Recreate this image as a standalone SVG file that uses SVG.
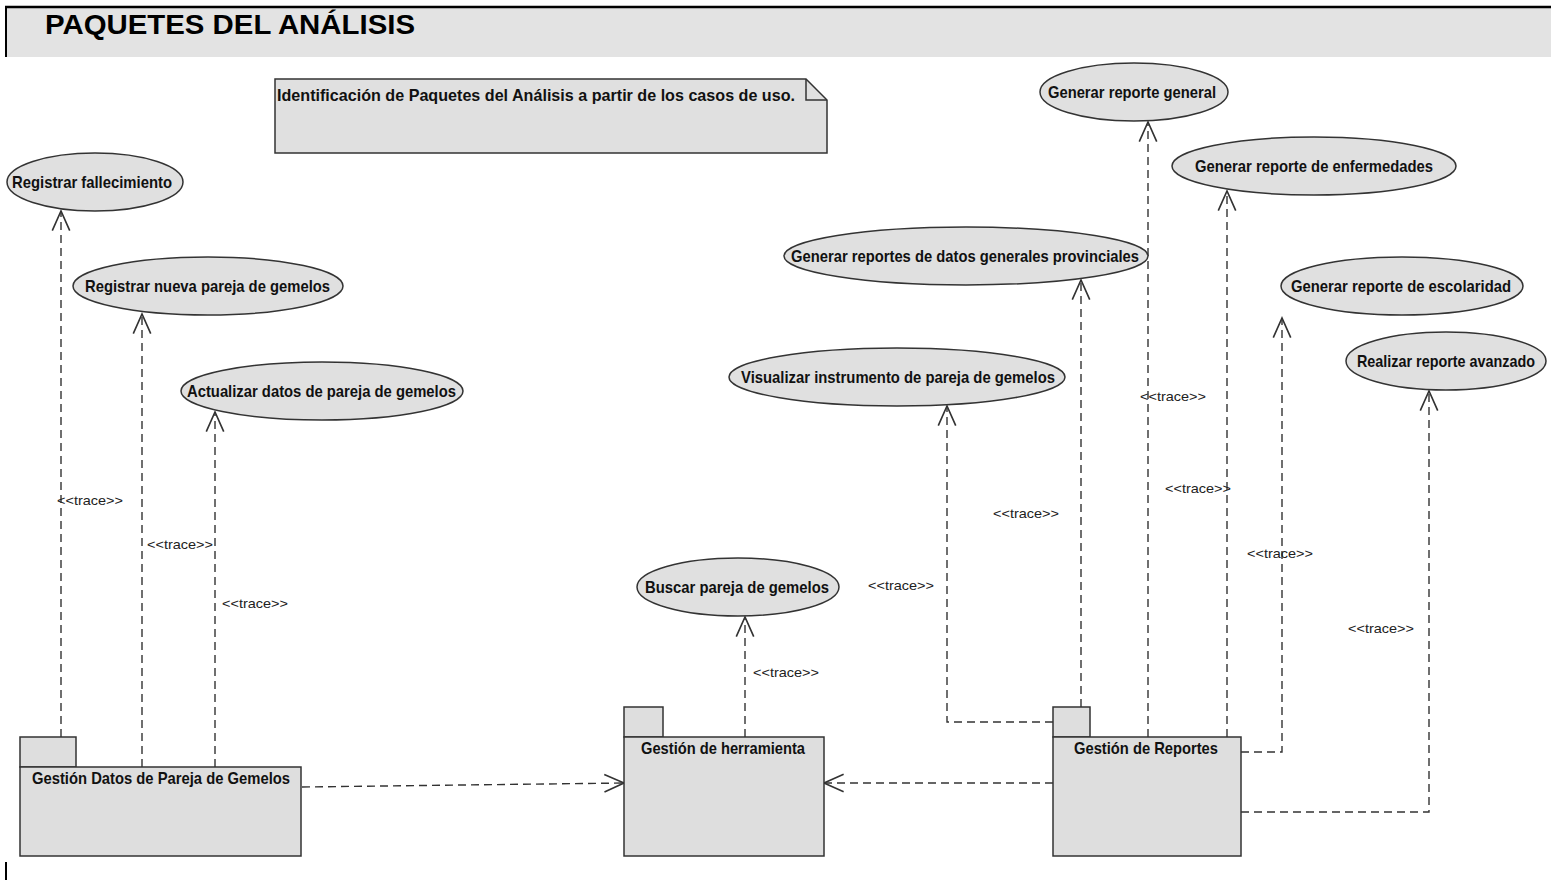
<svg xmlns="http://www.w3.org/2000/svg" width="1551" height="880" viewBox="0 0 1551 880">
<style>
.uc{fill:#e0e0e0;stroke:#333;stroke-width:1.5}
.pk{fill:#dedede;stroke:#333;stroke-width:1.5}
.lb{font-family:"Liberation Sans",Arial,sans-serif;font-weight:bold;font-size:17px;fill:#111}
.tr{font-family:"Liberation Sans",Arial,sans-serif;font-size:13px;fill:#222}
.dep{fill:none;stroke:#333;stroke-width:1.4;stroke-dasharray:8 5}
</style>
<defs>
<marker id="open" markerUnits="userSpaceOnUse" markerWidth="24" markerHeight="24" refX="0" refY="0" viewBox="-20 -10 22 20" orient="auto" overflow="visible">
<path d="M-18,-8 L0,0 L-18,8" fill="none" stroke="#333" stroke-width="1.5" stroke-dasharray="none"/>
</marker>
</defs>
<rect width="1551" height="880" fill="#fff"/>
<g id="header">
<rect x="6" y="7" width="1545" height="50" fill="#e3e3e3"/>
<line x1="5" y1="7" x2="1551" y2="7" stroke="#000" stroke-width="2.5"/>
<line x1="6" y1="6" x2="6" y2="57" stroke="#000" stroke-width="2"/>
<text x="45" y="34" font-family="'Liberation Sans',Arial,sans-serif" font-weight="bold" font-size="27" fill="#000" textLength="370" lengthAdjust="spacingAndGlyphs">PAQUETES DEL ANÁLISIS</text>
<line x1="6" y1="862" x2="6" y2="880" stroke="#000" stroke-width="2"/>
</g>
<g id="note">
<path d="M275,79 H806 L827,100 V153 H275 Z" class="uc"/>
<path d="M806,79 V100 H827" fill="none" stroke="#333" stroke-width="1.5"/>
<text x="277" y="101" class="lb" textLength="518" lengthAdjust="spacingAndGlyphs">Identificación de Paquetes del Análisis a partir de los casos de uso.</text>
</g>
<g id="connectors">
<path class="dep" d="M61,737 V211" marker-end="url(#open)"/>
<path class="dep" d="M142,767 V314" marker-end="url(#open)"/>
<path class="dep" d="M215,767 V412" marker-end="url(#open)"/>
<path class="dep" d="M745,737 V617" marker-end="url(#open)"/>
<path class="dep" d="M1053,722 H947 V406" marker-end="url(#open)"/>
<path class="dep" d="M1081,707 V280" marker-end="url(#open)"/>
<path class="dep" d="M1148,737 V122" marker-end="url(#open)"/>
<path class="dep" d="M1227,737 V191" marker-end="url(#open)"/>
<path class="dep" d="M1241,752 H1282 V318" marker-end="url(#open)"/>
<path class="dep" d="M1241,812 H1429 V391" marker-end="url(#open)"/>
<path class="dep" d="M302,787 L624,783" marker-end="url(#open)"/>
<path class="dep" d="M1053,783 H824" marker-end="url(#open)"/>
<text class="tr" x="57" y="505" textLength="66" lengthAdjust="spacingAndGlyphs">&lt;&lt;trace&gt;&gt;</text>
<text class="tr" x="147" y="549" textLength="66" lengthAdjust="spacingAndGlyphs">&lt;&lt;trace&gt;&gt;</text>
<text class="tr" x="222" y="608" textLength="66" lengthAdjust="spacingAndGlyphs">&lt;&lt;trace&gt;&gt;</text>
<text class="tr" x="753" y="677" textLength="66" lengthAdjust="spacingAndGlyphs">&lt;&lt;trace&gt;&gt;</text>
<text class="tr" x="868" y="590" textLength="66" lengthAdjust="spacingAndGlyphs">&lt;&lt;trace&gt;&gt;</text>
<text class="tr" x="993" y="518" textLength="66" lengthAdjust="spacingAndGlyphs">&lt;&lt;trace&gt;&gt;</text>
<text class="tr" x="1140" y="401" textLength="66" lengthAdjust="spacingAndGlyphs">&lt;&lt;trace&gt;&gt;</text>
<text class="tr" x="1165" y="493" textLength="66" lengthAdjust="spacingAndGlyphs">&lt;&lt;trace&gt;&gt;</text>
<text class="tr" x="1247" y="558" textLength="66" lengthAdjust="spacingAndGlyphs">&lt;&lt;trace&gt;&gt;</text>
<text class="tr" x="1348" y="633" textLength="66" lengthAdjust="spacingAndGlyphs">&lt;&lt;trace&gt;&gt;</text>
</g>
<g id="uc-registrar-fallecimiento">
<ellipse class="uc" cx="95" cy="182" rx="88" ry="29"/>
<text class="lb" x="12" y="188" textLength="160" lengthAdjust="spacingAndGlyphs">Registrar fallecimiento</text>
</g>
<g id="uc-registrar-nueva">
<ellipse class="uc" cx="208" cy="286" rx="135" ry="29"/>
<text class="lb" x="85" y="292" textLength="245" lengthAdjust="spacingAndGlyphs">Registrar nueva pareja de gemelos</text>
</g>
<g id="uc-actualizar">
<ellipse class="uc" cx="322" cy="391" rx="141" ry="29"/>
<text class="lb" x="187" y="397" textLength="269" lengthAdjust="spacingAndGlyphs">Actualizar datos de pareja de gemelos</text>
</g>
<g id="uc-reporte-general">
<ellipse class="uc" cx="1134" cy="92" rx="94" ry="29"/>
<text class="lb" x="1048" y="98" textLength="168" lengthAdjust="spacingAndGlyphs">Generar reporte general</text>
</g>
<g id="uc-reporte-enfermedades">
<ellipse class="uc" cx="1314" cy="166" rx="142" ry="29"/>
<text class="lb" x="1195" y="172" textLength="238" lengthAdjust="spacingAndGlyphs">Generar reporte de enfermedades</text>
</g>
<g id="uc-reportes-provinciales">
<ellipse class="uc" cx="966" cy="256" rx="182" ry="29"/>
<text class="lb" x="791" y="262" textLength="348" lengthAdjust="spacingAndGlyphs">Generar reportes de datos generales provinciales</text>
</g>
<g id="uc-reporte-escolaridad">
<ellipse class="uc" cx="1402" cy="286" rx="121" ry="29"/>
<text class="lb" x="1291" y="292" textLength="220" lengthAdjust="spacingAndGlyphs">Generar reporte de escolaridad</text>
</g>
<g id="uc-visualizar">
<ellipse class="uc" cx="897" cy="377" rx="168" ry="29"/>
<text class="lb" x="741" y="383" textLength="314" lengthAdjust="spacingAndGlyphs">Visualizar instrumento de pareja de gemelos</text>
</g>
<g id="uc-reporte-avanzado">
<ellipse class="uc" cx="1446" cy="361" rx="100" ry="29"/>
<text class="lb" x="1357" y="367" font-size="15" textLength="178" lengthAdjust="spacingAndGlyphs">Realizar reporte avanzado</text>
</g>
<g id="uc-buscar">
<ellipse class="uc" cx="738" cy="587" rx="101" ry="29"/>
<text class="lb" x="645" y="593" textLength="184" lengthAdjust="spacingAndGlyphs">Buscar pareja de gemelos</text>
</g>
<g id="pkg-datos">
<rect class="pk" x="20" y="737" width="56" height="30"/>
<rect class="pk" x="20" y="767" width="281" height="89"/>
<text class="lb" x="32" y="784" textLength="258" lengthAdjust="spacingAndGlyphs">Gestión Datos de Pareja de Gemelos</text>
</g>
<g id="pkg-herramienta">
<rect class="pk" x="624" y="707" width="39" height="30"/>
<rect class="pk" x="624" y="737" width="200" height="119"/>
<text class="lb" x="641" y="754" textLength="164" lengthAdjust="spacingAndGlyphs">Gestión de herramienta</text>
</g>
<g id="pkg-reportes">
<rect class="pk" x="1053" y="707" width="37" height="30"/>
<rect class="pk" x="1053" y="737" width="188" height="119"/>
<text class="lb" x="1074" y="754" textLength="144" lengthAdjust="spacingAndGlyphs">Gestión de Reportes</text>
</g>
</svg>
